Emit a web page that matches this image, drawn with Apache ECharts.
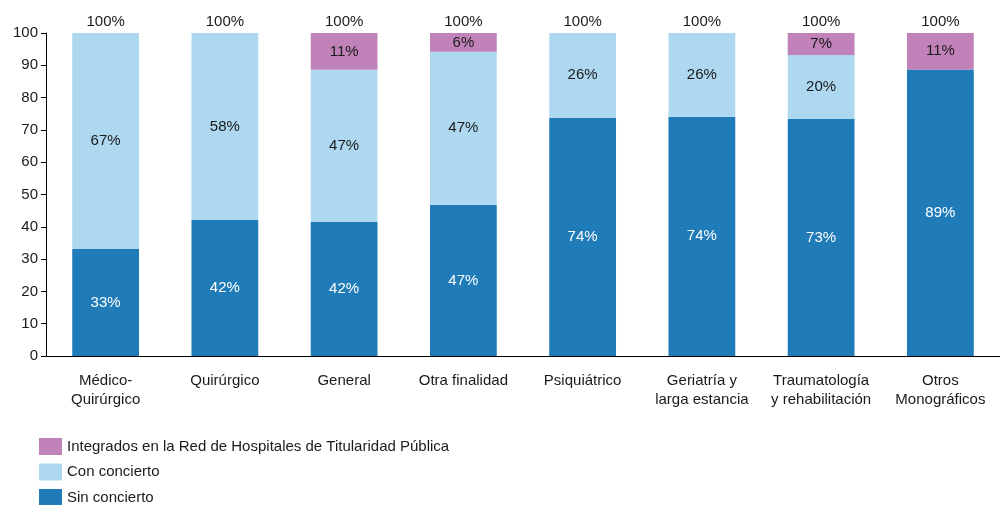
<!DOCTYPE html>
<html><head><meta charset="utf-8">
<script src="https://cdn.jsdelivr.net/npm/echarts@6/dist/echarts.min.js"></script>
<style>html,body{margin:0;padding:0;background:#fff}#c{width:1000px;height:505px}</style>
</head><body><div id="c"></div>
<script>
const categories = ['Médico-\nQuirúrgico','Quirúrgico','General','Otra finalidad','Psiquiátrico','Geriatría y\nlarga estancia','Traumatología\ny rehabilitación','Otros\nMonográficos'];
const sinConcierto = [33.1, 42.1, 41.6, 46.8, 73.8, 74.1, 73.4, 88.7];
const conConcierto = [66.9, 57.9, 47.0, 47.4, 26.2, 25.9, 19.8, 0];
const integrados = [0, 0, 11.4, 5.8, 0, 0, 6.8, 11.3];
const totals = [100, 100, 100, 100, 100, 100, 100, 100];
const yTicks = [0,10,20,30,40,50,60,70,80,90,100];

const font = 'Liberation Sans, Arial, sans-serif';
const chart = echarts.init(document.getElementById('c'));
function lab(color){
  return {show:true, position:'inside', color:color, fontFamily:font, fontSize:15,
    formatter:p=> p.value>0 ? Math.round(p.value)+'%' : ''};
}
chart.setOption({
  animation:false,
  textStyle:{fontFamily:font},
  grid:{left:46, right:-2, top:33, bottom:149},
  legend:{
    orient:'vertical', left:39, top:438, height:90, padding:0, itemWidth:23, itemHeight:17, itemGap:8.5,
    icon:'rect', textStyle:{fontFamily:font, fontSize:15, color:'#1a1a1a'},
    data:['Integrados en la Red de Hospitales de Titularidad Pública','Con concierto','Sin concierto']
  },
  xAxis:{
    type:'category', data:categories,
    axisLine:{lineStyle:{color:'#000', width:1}},
    axisTick:{show:false},
    axisLabel:{fontFamily:font, fontSize:15, color:'#1a1a1a', margin:15, lineHeight:19, interval:0}
  },
  yAxis:{
    type:'value', min:0, max:100, interval:10,
    axisLine:{show:true, lineStyle:{color:'#000', width:1}},
    axisTick:{show:true, length:5, lineStyle:{color:'#000'}},
    splitLine:{show:false},
    axisLabel:{fontFamily:font, fontSize:15, color:'#1a1a1a', margin:8,
      formatter:v=> yTicks.includes(v)? String(v):''}
  },
  series:[
    {name:'Sin concierto', type:'bar', stack:'a', data:sinConcierto, barWidth:'56%',
      itemStyle:{color:'#207cb8'}, label:lab('#ffffff')},
    {name:'Con concierto', type:'bar', stack:'a', data:conConcierto,
      itemStyle:{color:'#add8f0'}, label:lab('#1a1a1a')},
    {name:'Integrados en la Red de Hospitales de Titularidad Pública', type:'bar', stack:'a', data:integrados,
      itemStyle:{color:'#c082b8'}, label:lab('#1a1a1a')},
    {name:'Total', type:'scatter', data:totals, symbolSize:1, silent:true,
      itemStyle:{opacity:1, color:'rgba(0,0,0,0)'},
      label:{show:true, position:'top', distance:3, color:'#1a1a1a', fontFamily:font, fontSize:15,
        formatter:p=>p.value+'%'}}
  ]
});
</script></body></html>
